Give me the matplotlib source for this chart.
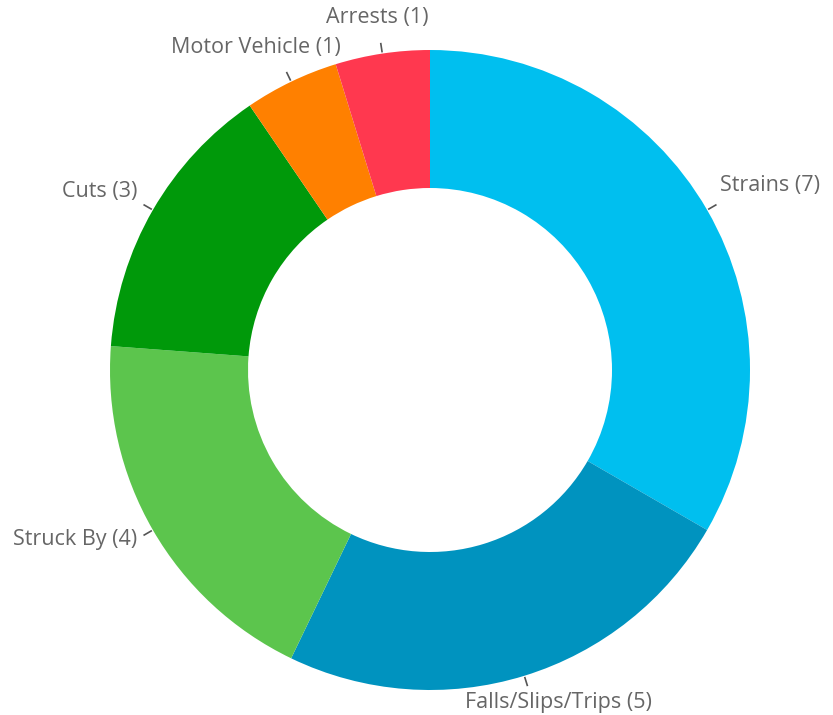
import numpy as np
import matplotlib.pyplot as plt

# data
labels = ["Strains", "Falls/Slips/Trips", "Struck By", "Cuts", "Motor Vehicle", "Arrests"]
counts = [7, 5, 4, 3, 1, 1]
colors = ["#00BFEF", "#0093BF", "#5CC54D", "#00990A", "#FF8000", "#FF384F"]

# label placement (pixel offsets from leader end), alignment
offsets = [(4, 20), (31, -17), (-7, -5), (-7, 13), (-31, 25), (-4, 26)]
aligns = ["left", "center", "right", "right", "center", "center"]

plt.rcParams['font.family'] = ['Open Sans', 'DejaVu Sans']

W, H = 833, 715
fig = plt.figure(figsize=(W / 100, H / 100), dpi=100)
ax = fig.add_axes([0, 0, 1, 1])

cx, cy = 430, H - 370
R = 320
hole = 182

ax.pie(counts, colors=colors, startangle=90, counterclock=False,
       radius=R, center=(cx, cy),
       wedgeprops=dict(width=R - hole, linewidth=0))
ax.set_xlim(0, W)
ax.set_ylim(0, H)
ax.set_aspect('equal')
ax.axis('off')

total = sum(counts)
cum = 0
for lab, n, off, ha in zip(labels, counts, offsets, aligns):
    mid = np.deg2rad(90 - (cum + n / 2) / total * 360)
    cum += n
    c, s = np.cos(mid), np.sin(mid)
    x0, y0 = cx + (R + 2) * c, cy + (R + 2) * s
    x1, y1 = cx + (R + 10) * c, cy + (R + 10) * s
    ax.plot([x0, x1], [y0, y1], color="#555555", lw=1.2)
    ax.text(x1 + off[0], y1 + off[1], f"{lab} ({n})", ha=ha, va='center',
            fontsize=15.5, color="#666666")

fig.savefig("out.png", dpi=100)
